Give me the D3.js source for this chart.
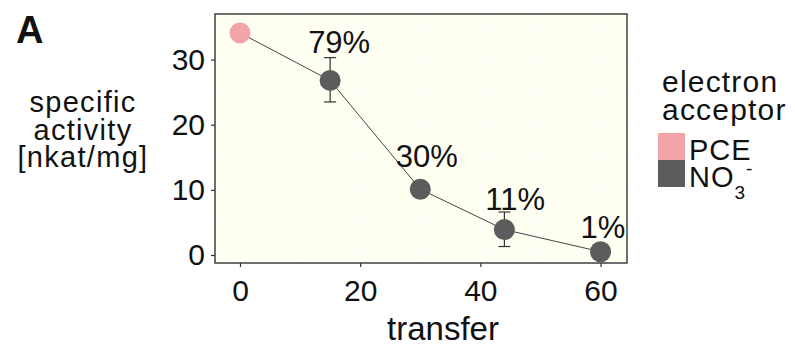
<!DOCTYPE html>
<html>
<head>
<meta charset="utf-8">
<script src="https://cdn.jsdelivr.net/npm/d3@7/dist/d3.min.js"></script>
<style>
  html, body { margin: 0; padding: 0; background: #ffffff; }
  svg { display: block; }
  text { font-family: "Liberation Sans", Arial, Helvetica, sans-serif; fill: #111; }
</style>
</head>
<body>
<svg id="chart" width="795" height="347"></svg>
<script>
// ---- data ----
const transfer   = [0, 15, 30, 44, 60];
const activity   = [34.1, 26.8, 10.1, 3.9, 0.5];
const errLow     = [34.1, 23.5, 10.1, 1.3, 0.5];
const errHigh    = [34.1, 30.3, 10.1, 6.6, 0.5];
const acceptor   = ["PCE", "NO3", "NO3", "NO3", "NO3"];
const pctLabels  = ["", "79%", "30%", "11%", "1%"];
const pctLabelX  = [0, 16.5, 31.1, 45.8, 60.4];
const pctLabelY  = [0, 31.0, 13.5, 6.9, 2.6];
const xTicks     = [0, 20, 40, 60];
const yTicks     = [0, 10, 20, 30];
const legendKeys = ["PCE", "NO3"];

// ---- layout ----
const svg = d3.select("#chart");
const panel = { left: 215, right: 627, top: 14, bottom: 263 };
const x = d3.scaleLinear().domain([-4.16, 64.4]).range([panel.left, panel.right]);
const y = d3.scaleLinear().domain([-1.23, 37.0]).range([panel.bottom, panel.top]);
const color = d3.scaleOrdinal().domain(legendKeys).range(["#f2a5a8", "#5c5c5c"]);

// panel background
svg.append("rect")
  .attr("x", panel.left).attr("y", panel.top)
  .attr("width", panel.right - panel.left).attr("height", panel.bottom - panel.top)
  .attr("fill", "#fefef1");

// faint white grid lines
const gx = d3.range(0, 61, 10), gy = d3.range(0, 36, 5);
svg.append("g").selectAll("line").data(gx).join("line")
  .attr("x1", d => x(d)).attr("x2", d => x(d))
  .attr("y1", panel.top).attr("y2", panel.bottom)
  .attr("stroke", "#ffffff").attr("stroke-width", 1);
svg.append("g").selectAll("line").data(gy).join("line")
  .attr("y1", d => y(d)).attr("y2", d => y(d))
  .attr("x1", panel.left).attr("x2", panel.right)
  .attr("stroke", "#ffffff").attr("stroke-width", 1);

// axes
const yAxis = svg.append("g")
  .attr("transform", `translate(${panel.left},0)`)
  .call(d3.axisLeft(y).tickValues(yTicks).tickSize(4).tickPadding(6).tickFormat(d3.format("d")));
const xAxis = svg.append("g")
  .attr("transform", `translate(0,${panel.bottom})`)
  .call(d3.axisBottom(x).tickValues(xTicks).tickSize(4).tickPadding(13).tickFormat(d3.format("d")));
[xAxis, yAxis].forEach(g => {
  g.select(".domain").remove();
  g.selectAll(".tick line").attr("stroke", "#333").attr("stroke-width", 1.2);
  g.selectAll(".tick text").attr("font-size", 30).attr("fill", "#111")
    .attr("font-family", "Liberation Sans, Arial, sans-serif");
});

// panel border
svg.append("rect")
  .attr("x", panel.left).attr("y", panel.top)
  .attr("width", panel.right - panel.left).attr("height", panel.bottom - panel.top)
  .attr("fill", "none").attr("stroke", "#333").attr("stroke-width", 1.4);

// connecting line
const pts = transfer.map((t, i) => ({ t, v: activity[i], lo: errLow[i], hi: errHigh[i], a: acceptor[i] }));
svg.append("path")
  .datum(pts)
  .attr("d", d3.line().x(d => x(d.t)).y(d => y(d.v)))
  .attr("fill", "none").attr("stroke", "#444").attr("stroke-width", 1);

// error bars
const eb = svg.append("g").attr("stroke", "#333").attr("stroke-width", 1.2);
pts.filter(d => d.hi > d.lo).forEach(d => {
  eb.append("line").attr("x1", x(d.t)).attr("x2", x(d.t)).attr("y1", y(d.lo)).attr("y2", y(d.hi));
  eb.append("line").attr("x1", x(d.t) - 6).attr("x2", x(d.t) + 6).attr("y1", y(d.lo)).attr("y2", y(d.lo));
  eb.append("line").attr("x1", x(d.t) - 6).attr("x2", x(d.t) + 6).attr("y1", y(d.hi)).attr("y2", y(d.hi));
});

// points
svg.append("g").selectAll("circle").data(pts).join("circle")
  .attr("cx", d => x(d.t)).attr("cy", d => y(d.v)).attr("r", 10.5)
  .attr("fill", d => color(d.a));

// percentage labels
svg.append("g").selectAll("text").data(pctLabels.map((l, i) => ({ l, x: pctLabelX[i], y: pctLabelY[i] })).filter(d => d.l))
  .join("text")
  .attr("x", d => x(d.x)).attr("y", d => y(d.y))
  .attr("text-anchor", "middle").attr("font-size", 31)
  .text(d => d.l);

// panel tag
svg.append("text").attr("x", 16).attr("y", 43).attr("font-size", 38).attr("font-weight", "bold").text("A");

// y axis title
const yTitle = ["specific", "activity", "[nkat/mg]"];
svg.append("g").selectAll("text").data(yTitle).join("text")
  .attr("x", 83).attr("y", (d, i) => 112 + i * 27.5)
  .attr("text-anchor", "middle").attr("font-size", 29).attr("letter-spacing", 1.3)
  .text(d => d);

// x axis title
svg.append("text").attr("x", 443).attr("y", 340).attr("text-anchor", "middle")
  .attr("font-size", 33).text("transfer");

// legend
const lg = svg.append("g");
["electron", "acceptor"].forEach((t, i) => {
  lg.append("text").attr("x", 662).attr("y", 92 + i * 28).attr("font-size", 30).attr("letter-spacing", 1.2).text(t);
});
lg.selectAll("rect").data(legendKeys).join("rect")
  .attr("x", 658).attr("y", (d, i) => 133 + i * 27)
  .attr("width", 27).attr("height", 27)
  .attr("fill", d => color(d));
lg.append("text").attr("x", 689).attr("y", 160).attr("font-size", 29).attr("letter-spacing", 1).text("PCE");
const no3 = lg.append("text").attr("x", 689).attr("y", 187).attr("font-size", 29).attr("letter-spacing", 1);
no3.append("tspan").text("NO");
no3.append("tspan").attr("font-size", 19).attr("dy", 12).text("3");
no3.append("tspan").attr("font-size", 19).attr("dy", -24).text("-");
</script>
</body>
</html>
